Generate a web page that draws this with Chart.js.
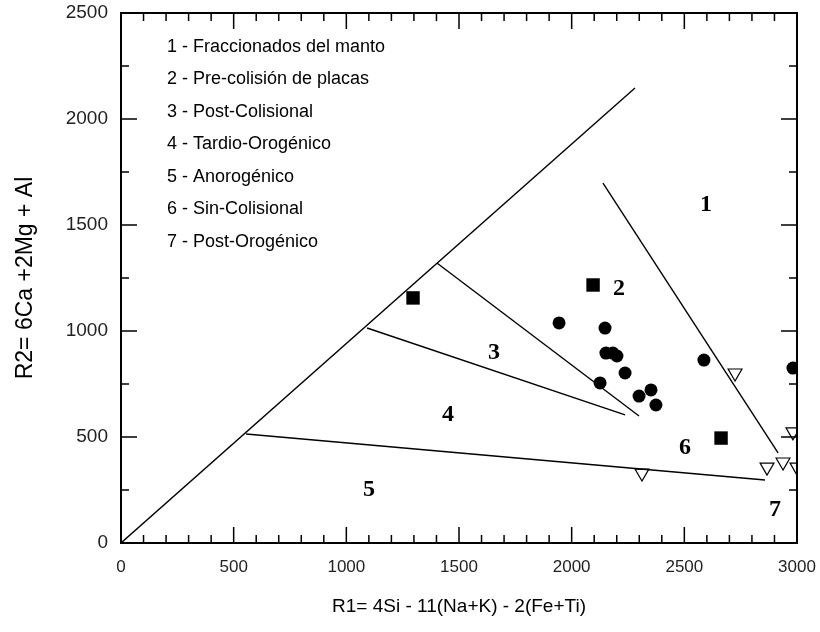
<!DOCTYPE html>
<html>
<head>
<meta charset="utf-8">
<script src="https://cdn.jsdelivr.net/npm/chart.js@4.4.0/dist/chart.umd.min.js"></script>
<style>
  html, body { margin: 0; padding: 0; background: #fff; }
  #chart { display: block; }
</style>
</head>
<body>
<canvas id="chart" width="820" height="632"></canvas>
<script>
// samples (R1, R2)
const circlePoints = [
  [1944, 1038], [2148, 1014], [2152, 896], [2183, 896], [2201, 882],
  [2237, 802], [2126, 755], [2299, 693], [2352, 722], [2374, 651],
  [2587, 863], [2982, 825],
];
const squarePoints = [[1296, 1156], [2095, 1217], [2663, 495]];
const trianglePoints = [
  [2725, 802], [2312, 330], [2867, 358], [2938, 382], [3000, 358], [2982, 524],
];

// field boundaries, each one a straight segment
const boundaryLines = [
  [[0, 0], [2281, 2146]],
  [[1402, 1321], [2299, 599]],
  [[1092, 1014], [2237, 604]],
  [[555, 514], [2858, 297]],
  [[2139, 1698], [2916, 425]],
];

// field numbers
const regionLabels = [
  ["1", 2596, 1594],
  ["2", 2210, 1198],
  ["3", 1655, 896],
  ["4", 1451, 604],
  ["5", 1101, 250],
  ["6", 2503, 448],
  ["7", 2902, 156],
];

const legendLines = [
  "1 - Fraccionados del manto",
  "2 - Pre-colisión de placas",
  "3 - Post-Colisional",
  "4 - Tardio-Orogénico",
  "5 - Anorogénico",
  "6 - Sin-Colisional",
  "7 - Post-Orogénico",
];
const legendX = 204;
const legendTopY = 2340;
const legendStepY = 153;

const xMax = 3000;
const yMax = 2500;
const majorStep = 500;
const xMinorStep = 100;
const yMinorStep = 250;

Chart.defaults.font.family = "'Liberation Sans', Arial, sans-serif";
Chart.defaults.color = "#222";

const toXY = (p) => ({ x: p[0], y: p[1] });

const lineSets = boundaryLines.map((seg) => ({
  type: "scatter",
  data: seg.map(toXY),
  showLine: true,
  borderColor: "#000",
  borderWidth: 1.4,
  pointRadius: 0,
  fill: false,
}));

const framePlugin = {
  id: "frame",
  afterDatasetsDraw(chart) {
    const { ctx, chartArea: a, scales } = chart;
    const x = scales.x;
    const y = scales.y;
    ctx.save();

    // region numbers
    ctx.fillStyle = "#000";
    ctx.font = "bold 24px 'Liberation Serif', 'Times New Roman', serif";
    ctx.textAlign = "center";
    ctx.textBaseline = "middle";
    regionLabels.forEach(([t, vx, vy]) => {
      ctx.fillText(t, x.getPixelForValue(vx), y.getPixelForValue(vy));
    });

    // key in the upper left
    ctx.font = "18px 'Liberation Sans', Arial, sans-serif";
    ctx.textAlign = "left";
    legendLines.forEach((t, i) => {
      ctx.fillText(t, x.getPixelForValue(legendX), y.getPixelForValue(legendTopY - i * legendStepY));
    });

    // frame with inward ticks
    ctx.strokeStyle = "#000";
    ctx.lineWidth = 2;
    ctx.strokeRect(a.left, a.top, a.right - a.left, a.bottom - a.top);
    ctx.lineWidth = 1.5;
    ctx.beginPath();
    for (let v = xMinorStep; v < xMax; v += xMinorStep) {
      const px = x.getPixelForValue(v);
      const len = v % majorStep === 0 ? 16 : 8;
      ctx.moveTo(px, a.bottom);
      ctx.lineTo(px, a.bottom - len);
      ctx.moveTo(px, a.top);
      ctx.lineTo(px, a.top + len);
    }
    for (let v = yMinorStep; v < yMax; v += yMinorStep) {
      const py = y.getPixelForValue(v);
      const len = v % majorStep === 0 ? 16 : 8;
      ctx.moveTo(a.left, py);
      ctx.lineTo(a.left + len, py);
      ctx.moveTo(a.right, py);
      ctx.lineTo(a.right - len, py);
    }
    ctx.stroke();
    ctx.restore();
  },
};

new Chart(document.getElementById("chart"), {
  type: "scatter",
  data: {
    datasets: [
      ...lineSets,
      {
        label: "circles",
        data: circlePoints.map(toXY),
        pointStyle: "circle",
        pointRadius: 6.5,
        backgroundColor: "#000",
        borderColor: "#000",
        borderWidth: 0,
      },
      {
        label: "squares",
        data: squarePoints.map(toXY),
        pointStyle: "rect",
        pointRadius: 9.5,
        backgroundColor: "#000",
        borderColor: "#000",
        borderWidth: 0,
      },
      {
        label: "triangles",
        data: trianglePoints.map(toXY),
        pointStyle: "triangle",
        rotation: 180,
        pointRadius: 8,
        backgroundColor: "#fff",
        borderColor: "#000",
        borderWidth: 1.2,
      },
    ],
  },
  options: {
    responsive: false,
    animation: false,
    layout: { padding: { top: 13, right: 23, left: 0, bottom: 0 } },
    plugins: {
      legend: { display: false },
      tooltip: { enabled: false },
    },
    scales: {
      x: {
        type: "linear",
        min: 0,
        max: xMax,
        ticks: {
          stepSize: majorStep,
          padding: 14,
          font: { size: 17 },
          maxRotation: 0,
          callback: (v) => String(v),
        },
        grid: { display: false, drawTicks: false },
        border: { display: false },
        title: {
          display: true,
          text: "R1= 4Si - 11(Na+K) - 2(Fe+Ti)",
          font: { size: 19 },
          color: "#000",
          padding: { top: 0, bottom: 14 },
        },
        afterFit: (scale) => {
          scale.height = 89;
          scale.paddingLeft = 0;
          scale.paddingRight = 0;
        },
      },
      y: {
        type: "linear",
        min: 0,
        max: yMax,
        ticks: {
          stepSize: majorStep,
          padding: 13,
          font: { size: 19 },
          callback: (v) => String(v),
        },
        grid: { display: false, drawTicks: false },
        border: { display: false },
        title: {
          display: true,
          text: "R2= 6Ca +2Mg + Al",
          font: { size: 23 },
          color: "#000",
          padding: { top: 12, bottom: 0 },
        },
        afterFit: (scale) => {
          scale.width = 121;
          scale.paddingTop = 0;
          scale.paddingBottom = 0;
        },
      },
    },
  },
  plugins: [framePlugin],
});
</script>
</body>
</html>
